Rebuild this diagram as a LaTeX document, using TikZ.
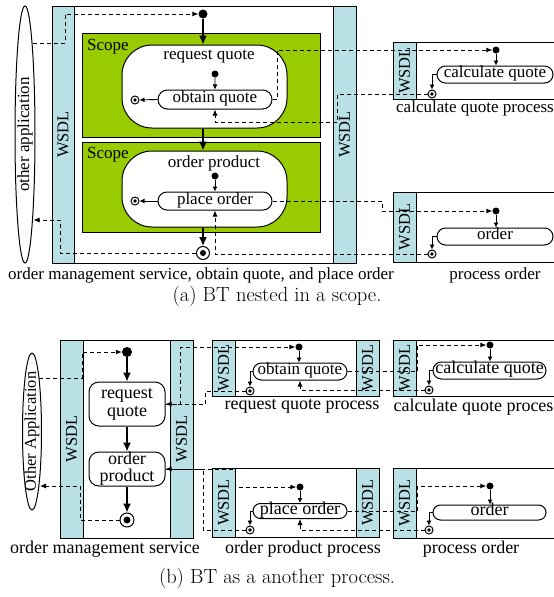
\documentclass[tikz,border=0pt]{standalone}
\usepackage{fontspec}
\newfontfamily\tnr{Liberation Serif}
\usetikzlibrary{arrows.meta,shapes.misc,calc}
\definecolor{wsdlc}{HTML}{B8E0E5}
\definecolor{scopec}{HTML}{99CC00}
\tikzset{
  fa/.style={font=\tnr\fontsize{17}{17}\selectfont},
  fb/.style={font=\tnr\fontsize{18}{18}\selectfont},
  wsdlbar/.style={draw, fill=wsdlc, line width=1pt, inner sep=0pt, rotate=90, font=\tnr\fontsize{16.5}{16.5}\selectfont},
  procbox/.style={draw, fill=white, line width=1pt, inner sep=0pt},
  scopebox/.style={draw, fill=scopec, line width=1pt, inner sep=0pt},
  actbox/.style={draw, fill=white, line width=1pt, inner sep=0pt, rounded corners=#1},
  ovalbox/.style={draw, fill=white, line width=1pt, rounded rectangle, inner sep=0pt, text height=7pt, text depth=1pt},
  initd/.style={circle, fill=black, inner sep=0pt, minimum size=#1},
  fin/.style={circle, draw, line width=1pt, fill=white, inner sep=0pt, minimum size=#1},
  mainarr/.style={line width=1.3pt, -{Latex[length=9pt,width=8pt]}},
  smlarr/.style={line width=0.9pt, -{Latex[length=5pt,width=5pt]}},
  dsh/.style={line width=0.9pt, dash pattern=on 4pt off 3pt, -{Latex[length=6pt,width=5pt]}},
  captxt/.style={font=\fontsize{20.5}{20.5}\selectfont}
}
\begin{document}
\begin{tikzpicture}[x=1pt,y=-1pt]
\useasboundingbox (0,0) rectangle (554,597);
% ================= (a) =================
\node[fa, rotate=90, inner sep=0pt] (oa) at (25,134.5) {other application};
\draw[line width=1pt] (oa.center) ellipse [x radius=10pt, y radius=128.5pt];
\node[procbox, minimum width=293pt, minimum height=257pt] (oms) at (198.5,134.5) {};
\node[wsdlbar, minimum width=257pt, minimum height=22pt] (wL) at (63,134.5) {WSDL};
\node[wsdlbar, minimum width=257pt, minimum height=23pt] (wR) at (344.5,134.5) {WSDL};
\node[scopebox, minimum width=238pt, minimum height=104pt] (s1) at (201,85) {};
\node[scopebox, minimum width=238pt, minimum height=90pt] (s2) at (201,187) {};
\node[fa, anchor=west, inner sep=0pt] (s1l) at (87,47) {Scope};
\node[fa, anchor=west, inner sep=0pt] (s2l) at (87,155) {Scope};
\node[actbox=30pt, minimum width=165pt, minimum height=83pt] (rq) at (204.5,86.5) {};
\node[actbox=30pt, minimum width=165pt, minimum height=76pt] (op) at (204.5,189) {};
\node[fa, inner sep=0pt] (rqt) at (209,57) {request quote};
\node[fa, inner sep=0pt] (opt) at (214,163) {order product};
\node[initd=7pt] (i1) at (215,74) {};
\node[ovalbox, fa, minimum width=114pt, minimum height=19pt] (oq) at (215,99.5) {obtain quote};
\node[fin=8pt] (f1) at (135,100) {};
\fill (f1) circle (1.8pt);
\node[initd=7pt] (i2) at (215,176) {};
\node[ovalbox, fa, minimum width=114pt, minimum height=18pt] (po) at (215,201) {place order};
\node[fin=8pt] (f2) at (135,201) {};
\fill (f2) circle (1.8pt);
\node[initd=9pt] (I) at (203,14) {};
\node[fin=13pt] (F) at (203,253) {};
\fill (F) circle (3pt);
% calculate quote process (a)
\node[procbox, anchor=north west, minimum width=170pt, minimum height=57pt] (cqp) at (393,42) {};
\node[wsdlbar, minimum width=57pt, minimum height=23pt] (cw) at (404.5,70.5) {WSDL};
\node[initd=7pt] (ci) at (496,50) {};
\node[ovalbox, fa, minimum width=116pt, minimum height=17pt] (cq) at (495,74.5) {calculate quote};
\node[fin=8pt] (cf) at (432,94) {};
\fill (cf) circle (1.8pt);
\node[fa, inner sep=0pt] (cql) at (475,108) {calculate quote process};
% process order (a)
\node[procbox, anchor=north west, minimum width=170pt, minimum height=70pt] (pop) at (393,192) {};
\node[wsdlbar, minimum width=70pt, minimum height=23pt] (pw) at (404.5,227) {WSDL};
\node[initd=7pt] (pi) at (496,211) {};
\node[ovalbox, fa, minimum width=116pt, minimum height=17pt] (ord) at (495,236.5) {order};
\node[fin=8pt] (pf) at (432,254) {};
\fill (pf) circle (1.8pt);
\node[fa, inner sep=0pt] (pol) at (495,275) {process order};
\node[fa, inner sep=0pt] (omsl) at (201,275) {order management service, obtain quote, and place order};
\node[captxt, inner sep=0pt] (capa) at (277,296) {(a) BT nested in a scope.};
% arrows (a)
\draw[mainarr] (I) -- (I |- rq.north);
\draw[mainarr] (rq.south -| I) -- (op.north -| I);
\draw[mainarr] (op.south -| I) -- (F);
\draw[smlarr] (i1) -- (oq);
\draw[smlarr] (oq.west) -- (f1);
\draw[smlarr] (i2) -- (po);
\draw[smlarr] (po.west) -- (f2);
\draw[smlarr] (ci) -- (ci |- cq.north);
\draw[smlarr] (cq.west) -| (cf);
\draw[smlarr] (pi) -- (pi |- ord.north);
\draw[smlarr] (ord.west) -| (pf);
\coordinate (oaA) at (33,43);
\coordinate (oaB) at (33.5,220);
\draw[dsh] (oaA) -| (65,14) -- (I);
\draw[dsh] (F) -- (60,253) |- (oaB);
\draw[dsh] (oq.east) -- (277,99.5) |- (ci);
\draw[dsh] (cf) -- (337,94) |- (215,122) -- (oq.south);
\draw[dsh] (po.east) -- (382,201) |- (pi);
\draw[dsh] (pf) -- (215,254) -- (po.south);
% ================= (b) =================
\node[font=\tnr\fontsize{16.5}{16.5}\selectfont, rotate=90, inner sep=0pt] (OA) at (32,431.5) {Other Application};
\draw[line width=1pt] (OA.center) ellipse [x radius=9.5pt, y radius=78.5pt];
\node[procbox, minimum width=133pt, minimum height=198pt] (oms2) at (126.5,439) {};
\node[wsdlbar, minimum width=198pt, minimum height=23pt] (wL2) at (71.5,439) {WSDL};
\node[wsdlbar, minimum width=198pt, minimum height=23pt] (wR2) at (181.5,439) {WSDL};
\node[initd=10pt] (I2) at (127,352) {};
\node[actbox=10pt, font=\tnr\fontsize{18}{18}\selectfont, align=center, minimum width=76pt, minimum height=44pt] (rq2) at (127,404) {request\\quote};
\node[actbox=10pt, font=\tnr\fontsize{18}{17}\selectfont, align=center, minimum width=76pt, minimum height=34pt] (op2) at (127,469) {order\\product};
\node[fin=14pt] (F2) at (127,520) {};
\fill (F2) circle (3.5pt);
% request quote process
\node[procbox, minimum width=167pt, minimum height=56pt] (rqp) at (295.5,368) {};
\node[wsdlbar, minimum width=56pt, minimum height=23pt] (rw1) at (223.5,368) {WSDL};
\node[wsdlbar, minimum width=56pt, minimum height=23pt] (rw2) at (367.5,368) {WSDL};
\node[initd=7pt] (ri) at (299,347) {};
\node[ovalbox, fa, minimum width=94pt, minimum height=17pt] (oq2) at (300,371.5) {obtain quote};
\node[fin=8pt] (rf) at (250,391) {};
\fill (rf) circle (1.8pt);
\node[fb, inner sep=0pt] (rql) at (302,406) {request quote process};
% order product process
\node[procbox, minimum width=167pt, minimum height=69pt] (opp) at (295.5,502.5) {};
\node[wsdlbar, minimum width=69pt, minimum height=23pt] (ow1) at (223.5,502.5) {WSDL};
\node[wsdlbar, minimum width=69pt, minimum height=23pt] (ow2) at (367.5,502.5) {WSDL};
\node[initd=7pt] (oi) at (300,487) {};
\node[ovalbox, fb, minimum width=94pt, minimum height=15pt] (po2) at (300,511) {place order};
\node[fin=8pt] (of) at (250,530) {};
\fill (of) circle (1.8pt);
\node[fb, inner sep=0pt] (opl) at (303,549) {order product process};
% calculate quote process (b)
\node[procbox, anchor=north west, minimum width=170pt, minimum height=56pt] (cqp2) at (393,340) {};
\node[wsdlbar, minimum width=56pt, minimum height=23pt] (cw2) at (404.5,368) {WSDL};
\node[initd=7pt] (ci2) at (490,345) {};
\node[ovalbox, fb, minimum width=113pt, minimum height=17pt] (cq2) at (489.5,370.5) {calculate quote};
\node[fin=8pt] (cf2) at (429,390) {};
\fill (cf2) circle (1.8pt);
\node[fb, inner sep=0pt] (cql2) at (477,407) {calculate quote process};
% process order (b)
\node[procbox, anchor=north west, minimum width=170pt, minimum height=70pt] (pop2) at (393,468) {};
\node[wsdlbar, minimum width=70pt, minimum height=23pt] (pw2) at (404.5,503) {WSDL};
\node[initd=7pt] (pi2) at (490,486) {};
\node[ovalbox, fb, minimum width=113pt, minimum height=15pt] (ord2) at (489.5,512.5) {order};
\node[fin=8pt] (pf2) at (429,530) {};
\fill (pf2) circle (1.8pt);
\node[fb, inner sep=0pt] (pol2) at (471,549) {process order};
\node[fb, inner sep=0pt] (omsl2) at (105,549) {order management service};
\node[captxt, inner sep=0pt] (capb) at (277,578) {(b) BT as a another process.};
% arrows (b)
\draw[mainarr] (I2) -- (rq2);
\draw[mainarr] (rq2) -- (op2);
\draw[mainarr] (op2) -- (F2);
\draw[smlarr] (ri) -- (ri |- oq2.north);
\draw[smlarr] (oq2.west) -| (rf);
\draw[smlarr] (oi) -- (po2);
\draw[smlarr] (po2.west) -| (of);
\draw[smlarr] (ci2) -- (ci2 |- cq2.north);
\draw[smlarr] (cq2.west) -| (cf2);
\draw[smlarr] (pi2) -- (pi2 |- ord2.north);
\draw[smlarr] (ord2.west) -| (pf2);
\coordinate (oaC) at (39,378);
\coordinate (oaD) at (40,486);
\draw[dsh] (oaC) -- (82,378) |- (I2);
\draw[dsh] (F2) -- (80,520) |- (oaD);
\draw[dsh] (rq2.east) -- (180,404) |- (ri);
\draw[dsh] (rf) -- (205,391) |- (rq2.east);
\draw[dsh] (op2.east) -- (235,469) |- (oi);
\draw[dsh] (of) -- (203,530) |- (op2.east);
\draw[dsh] (oq2.east) -- (417,371.5) |- (ci2);
\draw[dsh] (cf2) -- (300,390) -- (oq2.south);
\draw[dsh] (po2.east) -- (417,511) |- (pi2);
\draw[dsh] (pf2) -- (300,530) -- (po2.south);
\end{tikzpicture}
\end{document}
